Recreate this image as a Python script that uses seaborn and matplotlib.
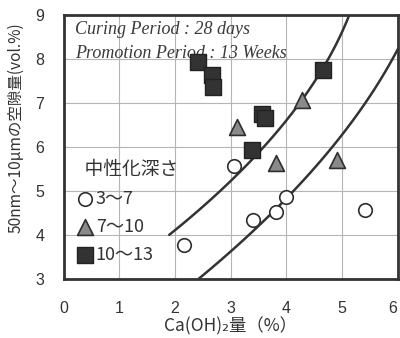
import numpy as np
import pandas as pd
import matplotlib
matplotlib.use("Agg")
import matplotlib.pyplot as plt
import seaborn as sns

# ---- data ----
circ_x = [2.17, 3.07, 3.40, 3.81, 3.99, 5.41]
circ_y = [3.78, 5.57, 4.33, 4.52, 4.86, 4.57]
tri_x = [3.11, 4.28, 3.81, 4.92]
tri_y = [6.45, 7.06, 5.64, 5.71]
sq_x = [2.42, 2.66, 2.69, 3.56, 3.62, 3.38, 4.66]
sq_y = [7.92, 7.63, 7.35, 6.74, 6.65, 5.92, 7.75]
groups = ["3～7", "7～10", "10～13"]

# curve points (x, y)
upper_x = [1.91, 2.81, 3.00, 3.62, 4.23, 4.78, 5.12]
upper_y = [4.00, 5.00, 5.26, 6.00, 7.00, 8.00, 9.00]
lower_x = [2.48, 3.26, 4.07, 4.90, 5.47, 5.89, 5.98]
lower_y = [3.00, 4.00, 5.00, 6.00, 7.00, 8.00, 8.22]

x_ticks = [0, 1, 2, 3, 4, 5, 6]
y_ticks = [3, 4, 5, 6, 7, 8, 9]

sns.set_theme(style="white")
plt.rcParams["font.family"] = ["Noto Sans CJK JP", "DejaVu Sans"]

dark = "#2e2e2e"
fig = plt.figure(figsize=(4.0, 3.38), dpi=100)
ax = fig.add_axes([0.159, 0.175, 0.835, 0.781])

ax.set_xlim(0, 6)
ax.set_ylim(3, 9)
ax.set_xticks(x_ticks)
ax.set_yticks(y_ticks)
ax.grid(True, color="#b5b5b5", linewidth=0.8)
ax.set_axisbelow(True)

# smoothed curves (x as quadratic of y through read points)
def smooth(xs, ys):
    c = np.polyfit(ys, xs, 2)
    yy = np.linspace(min(ys), max(ys), 60)
    return pd.DataFrame({"x": np.polyval(c, yy), "y": yy})

for xs, ys in [(upper_x, upper_y), (lower_x, lower_y)]:
    d = smooth(xs, ys)
    sns.lineplot(data=d, x="x", y="y", sort=False, estimator=None,
                 color="#333333", linewidth=1.8, ax=ax, legend=False)

df_c = pd.DataFrame({"x": circ_x, "y": circ_y})
df_t = pd.DataFrame({"x": tri_x, "y": tri_y})
df_s = pd.DataFrame({"x": sq_x, "y": sq_y})

sns.scatterplot(data=df_c, x="x", y="y", marker="o", s=95, color="white",
                edgecolor=dark, linewidth=1.2, ax=ax, label=groups[0], zorder=5)
sns.scatterplot(data=df_t, x="x", y="y", marker="^", s=130, color="#8a8a8a",
                edgecolor=dark, linewidth=1.2, ax=ax, label=groups[1], zorder=5)
sns.scatterplot(data=df_s, x="x", y="y", marker="s", s=125, color="#333333",
                edgecolor="#222222", linewidth=1.0, ax=ax, label=groups[2], zorder=5)

for sp in ax.spines.values():
    sp.set_visible(True)
    sp.set_linewidth(2.0)
    sp.set_color("#333333")

ax.tick_params(axis="both", length=0, labelsize=11.5, colors="#333333")
ax.tick_params(axis="x", pad=16)
ax.tick_params(axis="y", pad=14)
for lab in ax.get_xticklabels() + ax.get_yticklabels():
    lab.set_family("Liberation Sans")
ax.get_xticklabels()[-1].set_horizontalalignment("right")

ax.set_xlabel("Ca(OH)₂量（%）", fontsize=12.5, color="#333333", labelpad=1)
ax.set_ylabel("50nm～10μmの空隙量(vol.%)", fontsize=11.2, color="#333333")
ax.yaxis.set_label_coords(-0.116, 0.574)

ax.text(0.033, 0.943, "Curing Period : 28 days", transform=ax.transAxes,
        family="Liberation Serif", style="italic", fontsize=13, color="#3a3a3a",
        va="center", ha="left")
ax.text(0.033, 0.852, "Promotion Period : 13 Weeks", transform=ax.transAxes,
        family="Liberation Serif", style="italic", fontsize=13, color="#3a3a3a",
        va="center", ha="left")

leg = ax.legend(title="  中性化深さ", loc="upper left", bbox_to_anchor=(0.015, 0.482),
                frameon=False, fontsize=13, title_fontsize=13.5,
                handletextpad=0.1, handlelength=1.0, labelspacing=0.55,
                borderaxespad=0.0, alignment="left")
for t in leg.get_texts():
    t.set_color("#333333")
leg.get_title().set_color("#333333")

fig.savefig("out.png", dpi=100)
